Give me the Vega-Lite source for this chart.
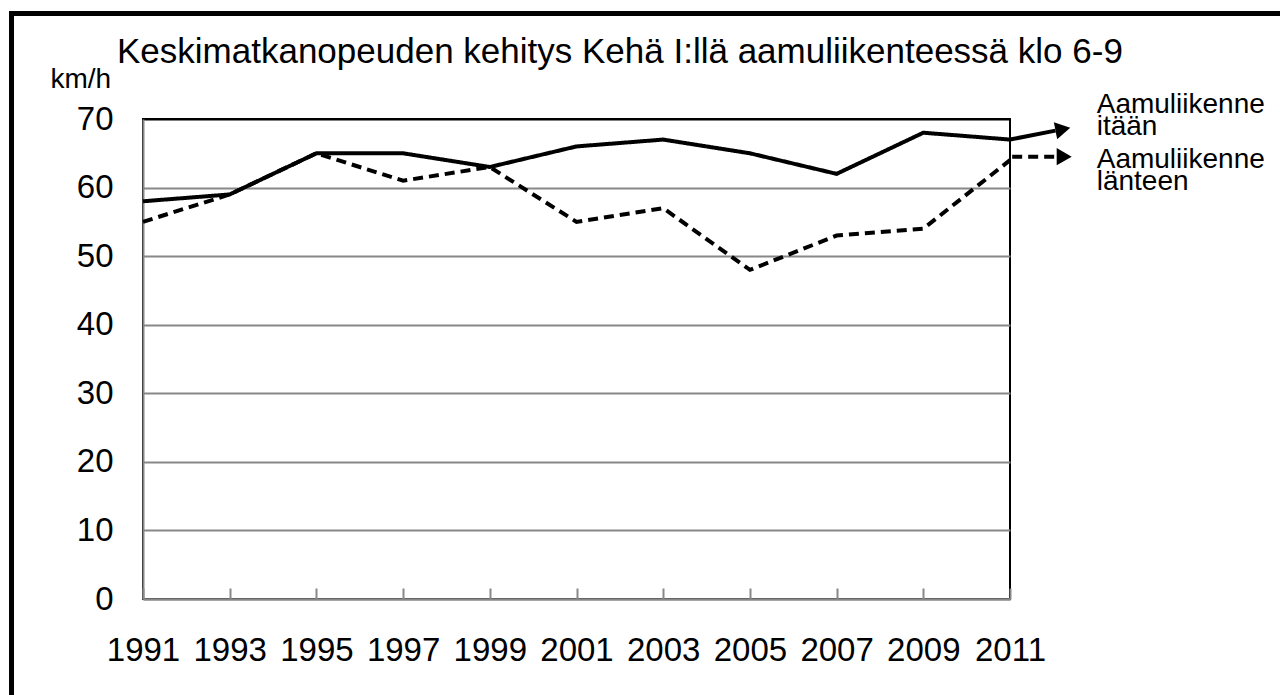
{
  "$schema": "https://vega.github.io/schema/vega-lite/v6.json",
  "width": 867,
  "height": 480,
  "autosize": "none",
  "padding": {"left": 143, "top": 119, "right": 270, "bottom": 96},
  "background": "white",
  "config": {
    "font": "Liberation Sans",
    "view": {"stroke": "black", "strokeWidth": 2}
  },
  "title": {
    "text": "Keskimatkanopeuden kehitys Kehä I:llä aamuliikenteessä klo 6-9",
    "anchor": "start",
    "frame": "group",
    "fontSize": 35,
    "fontWeight": "normal",
    "color": "black",
    "font": "Liberation Sans",
    "baseline": "alphabetic",
    "dx": -26,
    "offset": -87
  },
  "data": {
    "values": [
      {"year": 1991, "series": "Aamuliikenne itään", "speed": 58},
      {"year": 1993, "series": "Aamuliikenne itään", "speed": 59},
      {"year": 1995, "series": "Aamuliikenne itään", "speed": 65},
      {"year": 1997, "series": "Aamuliikenne itään", "speed": 65},
      {"year": 1999, "series": "Aamuliikenne itään", "speed": 63},
      {"year": 2001, "series": "Aamuliikenne itään", "speed": 66},
      {"year": 2003, "series": "Aamuliikenne itään", "speed": 67},
      {"year": 2005, "series": "Aamuliikenne itään", "speed": 65},
      {"year": 2007, "series": "Aamuliikenne itään", "speed": 62},
      {"year": 2009, "series": "Aamuliikenne itään", "speed": 68},
      {"year": 2011, "series": "Aamuliikenne itään", "speed": 67},
      {"year": 1991, "series": "Aamuliikenne länteen", "speed": 55},
      {"year": 1993, "series": "Aamuliikenne länteen", "speed": 59},
      {"year": 1995, "series": "Aamuliikenne länteen", "speed": 65},
      {"year": 1997, "series": "Aamuliikenne länteen", "speed": 61},
      {"year": 1999, "series": "Aamuliikenne länteen", "speed": 63},
      {"year": 2001, "series": "Aamuliikenne länteen", "speed": 55},
      {"year": 2003, "series": "Aamuliikenne länteen", "speed": 57},
      {"year": 2005, "series": "Aamuliikenne länteen", "speed": 48},
      {"year": 2007, "series": "Aamuliikenne länteen", "speed": 53},
      {"year": 2009, "series": "Aamuliikenne länteen", "speed": 54},
      {"year": 2011, "series": "Aamuliikenne länteen", "speed": 64}
    ]
  },
  "encoding": {
    "x": {
      "field": "year",
      "type": "quantitative",
      "scale": {"domain": [1991, 2011], "nice": false, "zero": false},
      "axis": {
        "title": null,
        "values": [1991, 1993, 1995, 1997, 1999, 2001, 2003, 2005, 2007, 2009, 2011],
        "format": "d",
        "grid": false,
        "labelFontSize": 33,
        "labelColor": "black",
        "labelFlush": false,
        "labelOverlap": false,
        "labelPadding": 46,
        "tickSize": -11,
        "tickColor": "#888888",
        "tickWidth": 2,
        "domainColor": "#888888",
        "domainWidth": 2
      }
    },
    "y": {
      "field": "speed",
      "type": "quantitative",
      "scale": {"domain": [0, 70], "nice": false},
      "axis": {
        "title": "km/h",
        "titleAngle": 0,
        "titleX": -93,
        "titleY": -32,
        "titleAlign": "left",
        "titleBaseline": "alphabetic",
        "titleFontSize": 28,
        "titleFontWeight": "normal",
        "titleColor": "black",
        "values": [0, 10, 20, 30, 40, 50, 60, 70],
        "labelFontSize": 33,
        "labelColor": "black",
        "labelPadding": 30,
        "ticks": false,
        "domainColor": "#888888",
        "domainWidth": 2,
        "grid": true,
        "gridColor": {"condition": {"test": "datum.value == 70", "value": "black"}, "value": "#888888"},
        "gridWidth": 2,
        "gridOpacity": 1
      }
    }
  },
  "layer": [
    {
      "mark": {"type": "line", "color": "black", "strokeWidth": 4, "strokeCap": "butt"},
      "encoding": {
        "strokeDash": {
          "field": "series",
          "type": "nominal",
          "scale": {"domain": ["Aamuliikenne itään", "Aamuliikenne länteen"], "range": [[1, 0], [10, 6]]},
          "legend": null
        }
      }
    },
    {
      "transform": [{"filter": "datum.year == 2011 && datum.series == 'Aamuliikenne itään'"}],
      "mark": {"type": "rule", "color": "black", "strokeWidth": 4},
      "encoding": {
        "x": {"datum": 2011},
        "y": {"datum": 67},
        "x2": {"datum": 2012.05},
        "y2": {"datum": 68.3}
      }
    },
    {
      "transform": [{"filter": "datum.year == 2011 && datum.series == 'Aamuliikenne itään'"}],
      "mark": {"type": "point", "shape": "triangle-right", "filled": true, "color": "black", "opacity": 1, "size": 300, "angle": -11},
      "encoding": {
        "x": {"datum": 2012.22},
        "y": {"datum": 68.5}
      }
    },
    {
      "transform": [{"filter": "datum.year == 2011 && datum.series == 'Aamuliikenne länteen'"}],
      "mark": {"type": "rule", "color": "black", "strokeWidth": 4, "strokeDash": [10, 6]},
      "encoding": {
        "x": {"datum": 2011.05},
        "y": {"datum": 64.5},
        "x2": {"datum": 2012.05},
        "y2": {"datum": 64.5}
      }
    },
    {
      "transform": [{"filter": "datum.year == 2011 && datum.series == 'Aamuliikenne länteen'"}],
      "mark": {"type": "point", "shape": "triangle-right", "filled": true, "color": "black", "opacity": 1, "size": 300},
      "encoding": {
        "x": {"datum": 2012.25},
        "y": {"datum": 64.5}
      }
    },
    {
      "transform": [{"filter": "datum.year == 2011 && datum.series == 'Aamuliikenne itään'"}],
      "mark": {"type": "text", "align": "left", "baseline": "alphabetic", "font": "Liberation Sans", "fontSize": 28, "lineHeight": 22, "color": "black"},
      "encoding": {
        "x": {"datum": 2013.0},
        "y": {"datum": 70.88},
        "text": {"value": ["Aamuliikenne", "itään"]}
      }
    },
    {
      "transform": [{"filter": "datum.year == 2011 && datum.series == 'Aamuliikenne länteen'"}],
      "mark": {"type": "text", "align": "left", "baseline": "alphabetic", "font": "Liberation Sans", "fontSize": 28, "lineHeight": 22, "color": "black"},
      "encoding": {
        "x": {"datum": 2013.0},
        "y": {"datum": 62.86},
        "text": {"value": ["Aamuliikenne", "länteen"]}
      }
    },
    {
      "transform": [{"filter": "datum.year == 2011 && datum.series == 'Aamuliikenne itään'"}],
      "mark": {"type": "rect", "fill": null, "filled": false, "stroke": "black", "strokeWidth": 5},
      "encoding": {
        "x": {"datum": 1987.967},
        "x2": {"datum": 2017.46},
        "y": {"datum": 85.39},
        "y2": {"datum": -15.46}
      }
    }
  ]
}
